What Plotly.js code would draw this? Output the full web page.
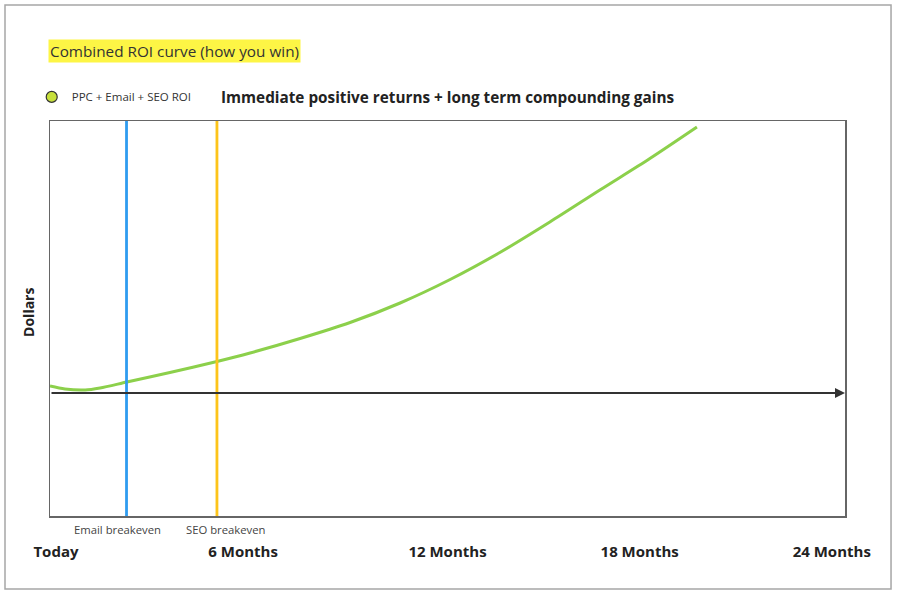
<!DOCTYPE html>
<html>
<head>
<meta charset="utf-8">
<script src="https://cdn.plot.ly/plotly-3.0.1.min.js"></script>
<style>html,body{margin:0;padding:0;background:#fff;}#chart{width:897px;height:594px;}</style>
</head>
<body>
<div id="chart"></div>
<script>
// Months since today
const months = [0, 0.45, 1.06, 1.51, 2.32, 3.62, 5.04, 6.04, 7.55, 9.06, 10.57, 12.08, 13.58, 15.09, 16.6, 18.11, 19.53];
// Combined ROI (relative dollars, 0 = breakeven)
const roi = [0.7, 0.4, 0.3, 0.5, 1.1, 2.05, 3.15, 4.0, 5.45, 7.05, 9.0, 11.35, 14.05, 17.1, 20.3, 23.45, 26.6];
const seriesName = "PPC + Email + SEO ROI";
const tickPositions = [0.18, 5.83, 12.0, 17.8, 23.6];
const tickLabels = ["Today", "6 Months", "12 Months", "18 Months", "24 Months"];
const breakevenNames = ["Email breakeven", "SEO breakeven"];
const breakevenMonths = [2.31, 5.04];
const breakevenLabelMonths = [2.04, 5.31];
const breakevenColors = ["#2f9cf0", "#fdc41a"];

const FONT = "Open Sans, Noto Sans, sans-serif";

const traces = [
  {
    x: months, y: roi, type: "scatter", mode: "lines",
    line: {color: "#8cd04b", width: 3, shape: "spline", smoothing: 0.8},
    showlegend: false, hoverinfo: "skip"
  },
  {
    x: [null], y: [null], type: "scatter", mode: "markers", name: seriesName,
    marker: {symbol: "circle", size: 11, color: "#c7e03c", line: {color: "#333", width: 1.2}},
    showlegend: true
  }
];

const shapes = [
  // outer frame
  {type: "rect", xref: "paper", yref: "paper", x0: -0.0566, x1: 1.0579, y0: -0.1848, y1: 1.2937,
   line: {color: "#a6a6a6", width: 1.5}, layer: "below"}
];
breakevenMonths.forEach((m, i) => {
  shapes.push({type: "line", xref: "x", yref: "paper", x0: m, x1: m, y0: 0, y1: 1,
    line: {color: breakevenColors[i], width: 2.8}, layer: "above"});
});

const annotations = [
  {text: "Combined ROI curve (how you win)", xref: "paper", yref: "paper", x: -0.003, y: 1.177,
   xanchor: "left", yanchor: "middle", showarrow: false, bgcolor: "#fdf545", borderpad: 1,
   font: {family: FONT, size: 15.3, color: "#333"}},
  {text: "<b>Immediate positive returns + long term compounding gains</b>", xref: "paper", yref: "paper",
   x: 0.2125, y: 1.061, xanchor: "left", yanchor: "middle", showarrow: false,
   font: {family: FONT, size: 15.3, color: "#222"}},
  {text: "<b>Dollars</b>", xref: "paper", yref: "paper", x: -0.028, y: 0.516,
   xanchor: "center", yanchor: "middle", textangle: -90, showarrow: false,
   font: {family: FONT, size: 14, color: "#222"}},
  // horizontal axis arrow at zero dollars
  {x: 24, y: 0, ax: 0, ay: 0, xref: "x", yref: "y", axref: "x", ayref: "y", text: "",
   showarrow: true, arrowhead: 2, arrowsize: 1, arrowwidth: 2, arrowcolor: "#333"}
];
breakevenNames.forEach((n, i) => {
  annotations.push({text: n, xref: "x", yref: "paper", x: breakevenLabelMonths[i], y: -0.033,
    xanchor: "center", yanchor: "middle", showarrow: false,
    font: {family: FONT, size: 11.3, color: "#444"}});
});

const layout = {
  width: 897, height: 594,
  margin: {l: 50, r: 52, t: 121, b: 78},
  paper_bgcolor: "#fff", plot_bgcolor: "#fff",
  font: {family: FONT},
  showlegend: true,
  legend: {x: -0.023, y: 1.061, xanchor: "left", yanchor: "middle", orientation: "h",
    font: {family: FONT, size: 11.5, color: "#333"}, bgcolor: "rgba(0,0,0,0)", itemwidth: 30},
  xaxis: {range: [0, 24], showgrid: false, zeroline: false, showline: true, mirror: true,
    linecolor: "#666", linewidth: 1.5, tickmode: "array", tickvals: tickPositions, ticktext: tickLabels,
    ticks: "", ticklabelstandoff: 21, tickfont: {family: FONT, size: 15, color: "#222", weight: "bold"},
    fixedrange: true},
  yaxis: {range: [-12.3, 27.2], showgrid: false, zeroline: false, showline: true, mirror: true,
    linecolor: "#666", linewidth: 1.5, showticklabels: false, ticks: "",
    fixedrange: true},
  shapes: shapes,
  annotations: annotations
};

Plotly.newPlot("chart", traces, layout, {displayModeBar: false, staticPlot: true});
</script>
</body>
</html>
